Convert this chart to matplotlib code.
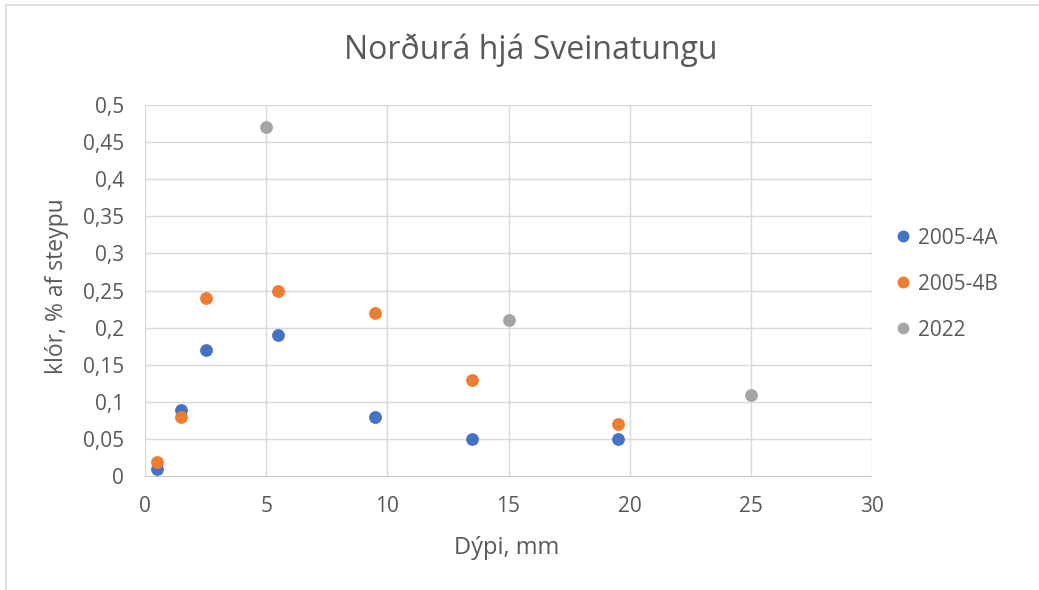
import matplotlib
matplotlib.use("Agg")
import matplotlib.pyplot as plt
from matplotlib.lines import Line2D
from matplotlib.patches import Rectangle

plt.rcParams['font.family'] = ['Open Sans', 'DejaVu Sans']

series_names = ["2005-4A", "2005-4B", "2022"]
x_4a = [0.5, 1.5, 2.5, 5.5, 9.5, 13.5, 19.5]
y_4a = [0.01, 0.09, 0.17, 0.19, 0.08, 0.05, 0.05]
x_4b = [0.5, 1.5, 2.5, 5.5, 9.5, 13.5, 19.5]
y_4b = [0.02, 0.08, 0.24, 0.25, 0.22, 0.13, 0.07]
x_22 = [5, 15, 25]
y_22 = [0.47, 0.21, 0.11]
xticks = [0, 5, 10, 15, 20, 25, 30]
yticks = [0, 0.05, 0.1, 0.15, 0.2, 0.25, 0.3, 0.35, 0.4, 0.45, 0.5]
ytick_labels = ["0", "0,05", "0,1", "0,15", "0,2", "0,25", "0,3", "0,35", "0,4", "0,45", "0,5"]

colors = ["#4472C4", "#ED7D31", "#A5A5A5"]
txt = "#595959"

fig = plt.figure(figsize=(10.39, 5.90), dpi=100)
fig.patch.set_facecolor("white")
# chart area border (light)
fig.add_artist(Rectangle((6/1039, -0.05), 1.2, 1 - 5/590 + 0.05, transform=fig.transFigure,
                         fill=False, edgecolor="#d9d9d9", linewidth=1.2))

ax = fig.add_axes([145/1039, 1 - 476.5/590, (872 - 145)/1039, (476.5 - 104.7)/590])
ax.set_xlim(0, 30)
ax.set_ylim(0, 0.5)
ax.set_xticks(xticks)
ax.set_xticklabels([str(v) for v in xticks])
ax.set_yticks(yticks)
ax.set_yticklabels(ytick_labels)
for s in ax.spines.values():
    s.set_visible(False)
ax.grid(True, color="#d9d9d9", linewidth=1.0)
ax.set_axisbelow(True)
ax.axhline(0, color="#bfbfbf", linewidth=1.2, zorder=1)
ax.tick_params(axis="x", length=0, labelsize=15, labelcolor=txt, pad=14)
ax.tick_params(axis="y", length=0, labelsize=15, labelcolor=txt, pad=15)

ms = 85
ax.scatter(x_4a, y_4a, s=ms, color=colors[0], zorder=3, clip_on=False, linewidths=0)
ax.scatter(x_4b, y_4b, s=ms, color=colors[1], zorder=3, clip_on=False, linewidths=0)
ax.scatter(x_22, y_22, s=ms, color=colors[2], zorder=3, clip_on=False, linewidths=0)

fig.text(531/1039, 1 - 50/590, "Norðurá hjá Sveinatungu", ha="center", va="center",
         fontsize=23, color=txt)
ax.set_xlabel("Dýpi, mm", fontsize=17, color=txt)
ax.xaxis.set_label_coords((507 - 145)/(872 - 145), -(548 - 476.5)/(476.5 - 104.7))
ax.xaxis.label.set_va("center")
ax.set_ylabel("klór, % af steypu", fontsize=16.5, color=txt)
ax.yaxis.set_label_coords(-(145 - 57)/(872 - 145), (476.5 - 286.5)/(476.5 - 104.7))
ax.yaxis.label.set_va("center")

handles = [Line2D([], [], linestyle="none", marker="o", markersize=7.5, color=c) for c in colors]
leg = fig.legend(handles, series_names, loc="center left",
                 bbox_to_anchor=(874/1039, 1 - 284/590), frameon=False,
                 fontsize=15, labelcolor=txt, handletextpad=0.2, labelspacing=1.2,
                 handlelength=1.0)

fig.savefig("out.png", dpi=100, facecolor="white")
